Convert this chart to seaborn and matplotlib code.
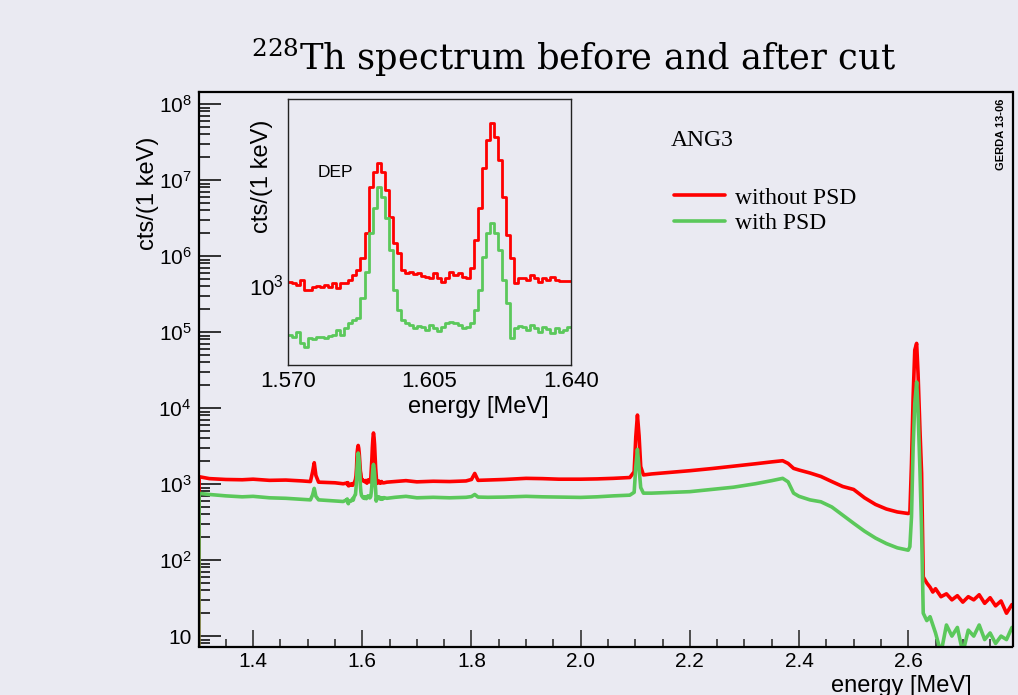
import numpy as np
import pandas as pd
import matplotlib
matplotlib.use("Agg")
import matplotlib.pyplot as plt
import seaborn as sns
from matplotlib.ticker import FixedLocator, FixedFormatter, LogLocator, NullFormatter

# ---------------- data ----------------
# inset histogram: 1 keV bins from 1.570 to 1.640 MeV
inset_lo = 1.570
inset_bin = 0.001
inset_red = [1029, 1013, 997, 1046, 950, 950, 981, 987, 981, 997,
             981, 1013, 965, 1013, 1019, 1046, 1097, 1151, 1288, 1637,
             2561, 2957, 3224, 2957, 2480, 1920, 1486, 1351, 1151, 1122,
             1133, 1108, 1115, 1087, 1080, 1063, 1115, 1063, 1029, 1063,
             1133, 1097, 1122, 1080, 1063, 1170, 1535, 2080, 3052, 4006,
             4700, 4138, 3306, 2326, 1610, 1288, 1019, 1063, 1063, 1046,
             1097, 1063, 1029, 1063, 1046, 1080, 1046, 1039, 1039, 1039]
inset_green = [617, 607, 637, 570, 552, 598, 592, 603, 607, 598,
               611, 617, 647, 617, 658, 690, 712, 724, 877, 1133,
               1637, 2080, 2561, 2326, 1890, 1395, 950, 784, 712, 690,
               679, 658, 673, 664, 647, 679, 658, 643, 664, 690,
               701, 690, 679, 658, 664, 690, 784, 950, 1308, 1637,
               1813, 1637, 1395, 1046, 836, 598, 658, 673, 664, 647,
               679, 658, 637, 664, 652, 631, 658, 637, 647, 664]

# main spectrum outside the inset window
pre_energy = [1.300, 1.3012, 1.32, 1.35, 1.38, 1.40, 1.43, 1.46, 1.49, 1.505,
              1.509, 1.512, 1.515, 1.52, 1.55, 1.565]
pre_red = [1, 1250, 1180, 1150, 1140, 1160, 1120, 1130, 1100, 1080,
           1450, 1910, 1300, 1060, 1040, 1010]
pre_green = [1, 755, 730, 700, 680, 690, 660, 650, 630, 620,
             720, 878, 690, 620, 600, 590]

post_energy = [1.645, 1.66, 1.68, 1.70, 1.73, 1.76, 1.79, 1.800, 1.806, 1.812,
               1.83, 1.86, 1.90, 1.93, 1.96, 2.00, 2.03, 2.06, 2.09, 2.098,
               2.101, 2.104, 2.107, 2.110, 2.115, 2.13, 2.16, 2.20, 2.24, 2.28,
               2.32, 2.35, 2.37, 2.38, 2.39, 2.40, 2.42, 2.44, 2.46, 2.48,
               2.50, 2.52, 2.54, 2.56, 2.58, 2.60, 2.603, 2.606, 2.609, 2.612,
               2.6154, 2.618, 2.6215, 2.6245, 2.6275, 2.634, 2.64, 2.645, 2.65, 2.66,
               2.67, 2.68, 2.69, 2.70, 2.71, 2.72, 2.73, 2.74, 2.75, 2.76,
               2.77, 2.78, 2.79]
post_red = [1060, 1080, 1110, 1070, 1090, 1080, 1100, 1150, 1380, 1120,
            1130, 1150, 1190, 1180, 1160, 1160, 1170, 1190, 1220, 1450,
            4200, 8090, 4300, 1700, 1320, 1360, 1420, 1500, 1600, 1720,
            1850, 1960, 2030, 1870, 1610, 1530, 1400, 1260, 1080, 930,
            850, 660, 540, 470, 430, 410, 420, 1870, 14000, 58000,
            71000, 28500, 5100, 1380, 60, 50, 44, 38, 42, 33,
            36, 30, 34, 28, 33, 30, 35, 27, 32, 25,
            29, 20, 26]
post_green = [650, 670, 690, 660, 670, 660, 670, 685, 730, 675,
              670, 675, 690, 680, 675, 668, 680, 700, 715, 780,
              1700, 2860, 1600, 900, 760, 760, 775, 795, 850, 910,
              1010, 1110, 1190, 1070, 760, 690, 620, 585, 500, 390,
              305, 240, 195, 165, 145, 135, 150, 372, 3100, 11500,
              22000, 9400, 1500, 250, 20, 16, 18, 14, 11, 6,
              14, 10, 13, 6, 12, 10, 14, 9, 11, 8,
              10, 9, 13]

main_xticks = [1.4, 1.6, 1.8, 2.0, 2.2, 2.4, 2.6]
main_xticklabels = ["1.4", "1.6", "1.8", "2.0", "2.2", "2.4", "2.6"]
main_yticks = [1e1, 1e2, 1e3, 1e4, 1e5, 1e6, 1e7, 1e8]
main_yticklabels = ["10"] + [r"$\mathregular{10^{%d}}$" % k for k in range(2, 9)]
inset_xticks = [1.570, 1.605, 1.640]
inset_xticklabels = ["1.570", "1.605", "1.640"]
inset_yticks = [1e3]
inset_yticklabels = [r"$\mathregular{10^{3}}$"]
series_labels = ["without PSD", "with PSD"]

# ---------------- style ----------------
sns.set_theme(style="darkgrid")
plt.rcParams["font.family"] = ["Liberation Sans", "DejaVu Sans"]
plt.rcParams["axes.grid"] = False
plt.rcParams["text.color"] = "black"
plt.rcParams["xtick.color"] = "black"
plt.rcParams["ytick.color"] = "black"

BG = "#EAEAF2"
RED = "#FF0000"
GREEN = "#5BC85B"
W, H = 1018, 695

fig = plt.figure(figsize=(W / 100, H / 100), dpi=100, facecolor=BG)

# ---------------- main axes ----------------
ax = fig.add_axes([198.5 / W, 1 - 646.5 / H, (1012.5 - 198.5) / W, (646.5 - 92) / H])
ax.set_facecolor(BG)
ax.grid(False)
ax.set_yscale("log")

n = len(inset_red)
edges = inset_lo + inset_bin * np.arange(n + 1)
centers = edges[:-1] + inset_bin / 2

df = pd.DataFrame({
    "energy": np.concatenate([pre_energy, centers, post_energy]),
    "red": np.concatenate([pre_red, inset_red, post_red]),
    "green": np.concatenate([pre_green, inset_green, post_green]),
})
sns.lineplot(data=df, x="energy", y="red", color=RED, lw=2.6, ax=ax,
             estimator=None, sort=False, label=series_labels[0])
sns.lineplot(data=df, x="energy", y="green", color=GREEN, lw=2.6, ax=ax,
             estimator=None, sort=False, label=series_labels[1])

ax.set_xlim(1.3, 2.791)
ax.set_ylim(7.3, 1.44e8)
ax.set_xlabel("")
ax.set_ylabel("")

ax.xaxis.set_major_locator(FixedLocator(main_xticks))
ax.xaxis.set_major_formatter(FixedFormatter(main_xticklabels))
ax.xaxis.set_minor_locator(FixedLocator(list(np.arange(1.30, 2.80, 0.05))))
ax.yaxis.set_major_locator(FixedLocator(main_yticks))
ax.yaxis.set_major_formatter(FixedFormatter(main_yticklabels))
ax.yaxis.set_minor_locator(LogLocator(base=10, subs=np.arange(2, 10), numticks=20))
ax.yaxis.set_minor_formatter(NullFormatter())

ax.tick_params(axis="x", which="major", direction="in", length=12, width=1.2,
               color="#333333", labelsize=15, pad=4, top=False, bottom=True,
               labelcolor="black")
ax.tick_params(axis="x", which="minor", direction="in", length=6, width=1.2,
               color="#333333", top=False, bottom=True)
ax.tick_params(axis="y", which="major", direction="in", length=16, width=1.2,
               color="#111111", labelsize=15, pad=5, right=False, left=True,
               labelcolor="black")
ax.tick_params(axis="y", which="minor", direction="in", length=8, width=1.2,
               color="#111111", right=False, left=True)
for s in ax.spines.values():
    s.set_visible(True)
    s.set_color("black")
    s.set_linewidth(1.6)

leg = ax.legend(loc="upper left", bbox_to_anchor=(674 / W, 1 - 187 / H),
                bbox_transform=fig.transFigure, frameon=False,
                prop={"family": "Liberation Serif", "size": 17},
                handlelength=2.15, handletextpad=0.45, borderpad=0,
                borderaxespad=0, labelspacing=0.17)
for h in leg.get_lines():
    h.set_linewidth(2.6)

# ---------------- inset ----------------
iax = fig.add_axes([287.7 / W, 1 - 365 / H, (570.7 - 287.7) / W, (365 - 99.3) / H])
iax.set_facecolor(BG)
iax.grid(False)
iax.set_yscale("log")
sns.lineplot(x=edges, y=np.append(inset_red, inset_red[-1]), color=RED, lw=2.0,
             drawstyle="steps-post", ax=iax, estimator=None, sort=False)
sns.lineplot(x=edges, y=np.append(inset_green, inset_green[-1]), color=GREEN, lw=2.0,
             drawstyle="steps-post", ax=iax, estimator=None, sort=False)
iax.set_xlim(1.570, 1.640)
iax.set_ylim(463, 5920)
iax.set_xlabel("")
iax.set_ylabel("")
iax.xaxis.set_major_locator(FixedLocator(inset_xticks))
iax.xaxis.set_major_formatter(FixedFormatter(inset_xticklabels))
iax.xaxis.set_minor_locator(FixedLocator(list(1.570 + 0.00875 * np.arange(9))))
iax.yaxis.set_major_locator(FixedLocator(inset_yticks))
iax.yaxis.set_major_formatter(FixedFormatter(inset_yticklabels))
iax.yaxis.set_minor_locator(LogLocator(base=10, subs=np.arange(2, 10), numticks=20))
iax.yaxis.set_minor_formatter(NullFormatter())
iax.tick_params(axis="x", which="major", direction="in", length=6, width=1,
                color="#444444", labelsize=16, pad=4, top=False)
iax.tick_params(axis="x", which="minor", direction="in", length=5, width=1,
                color="#444444", top=False)
iax.tick_params(axis="y", which="major", direction="in", length=9, width=1,
                color="#444444", labelsize=16, pad=3, right=False)
iax.tick_params(axis="y", which="minor", direction="in", length=5, width=1,
                color="#444444", right=False)
for s in iax.spines.values():
    s.set_visible(True)
    s.set_color("#222222")
    s.set_linewidth(1.0)

# ---------------- texts ----------------
fig.text(573.5 / W, 1 - 70 / H, r"$^{228}$Th spectrum before and after cut",
         ha="center", va="baseline", fontsize=25.4, family="DejaVu Serif",
         math_fontfamily="dejavuserif", color="black")
fig.text(148 / W, 1 - 193 / H, "cts/(1 keV)", rotation=90, ha="center",
         va="center", fontsize=17)
fig.text(972 / W, 1 - 692 / H, "energy [MeV]", ha="right", va="baseline",
         fontsize=17)
fig.text(261.7 / W, 1 - 176 / H, "cts/(1 keV)", rotation=90, ha="center",
         va="center", fontsize=17)
fig.text(548.3 / W, 1 - 413.5 / H, "energy [MeV]", ha="right", va="baseline",
         fontsize=17)
fig.text(318 / W, 1 - 177.3 / H, "DEP", ha="left", va="baseline", fontsize=12.5)
fig.text(670.7 / W, 1 - 146 / H, "ANG3", ha="left", va="baseline", fontsize=17,
         family="Liberation Serif")
fig.text(1001.5 / W, 1 - 134 / H, "GERDA 13-06", rotation=90, ha="center",
         va="center", fontsize=8, fontweight="bold")

fig.savefig("out.png", dpi=100, facecolor=BG)
